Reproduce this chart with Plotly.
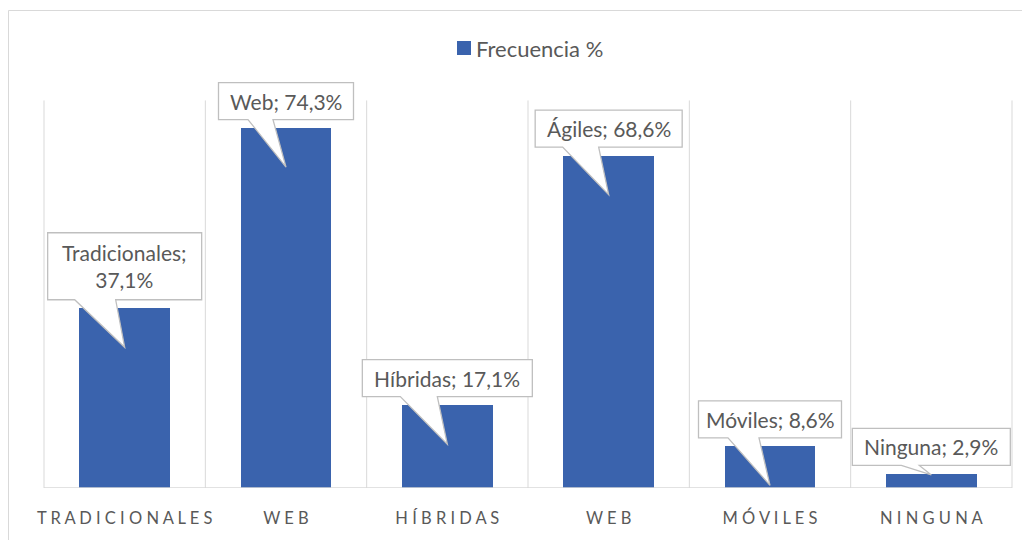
import plotly.graph_objects as go

# ---- data ----
series_name = "Frecuencia %"
label_names = ["Tradicionales", "Web", "Híbridas", "Ágiles", "Móviles", "Ninguna"]
values = [37.1, 74.3, 17.1, 68.6, 8.6, 2.9]
tick_labels = ["TRADICIONALES", "WEB", "HÍBRIDAS", "WEB", "MÓVILES", "NINGUNA"]

# ---- style / layout ----
FIG_W, FIG_H = 1030, 540
L, R, T, B = 26, 16, 44, 60
CAT_PX = 968 / 6
PAD = 10 / CAT_PX
Y_MAX_AXIS = 80
BAR_COLOR = "#3A63AD"
TEXT_COLOR = "#595959"
GRID_COLOR = "#D9D9D9"
CALLOUT_LINE = "#BFBFBF"
FONT = "Lato"

W_plot = FIG_W - L - R
H_plot = FIG_H - T - B


def px_x(p):
    return (p - L) / W_plot


def px_y(p):
    return (FIG_H - B - p) / H_plot


# callout geometry in pixels (box width, box height, tip depth, pointer base left/right)
box_w = [154, 135, 170, 147, 143, 158]
box_h = [67, 37, 37, 37, 37, 37]
tip_dy = [-39, -39, -39, -39, -39, -1]
base_a = [-50, -38, -47, -46, -42, -30]
base_b = [-9, -13, -10, -10, -11, -12]
GAP = 8.5

n = len(values)
xs = list(range(n))

fig = go.Figure()
fig.add_trace(go.Bar(
    x=xs, y=values, name=series_name, width=0.56,
    marker=dict(color=BAR_COLOR, line=dict(width=0)),
    hoverinfo="skip", showlegend=False,
))


def fmt(v):
    return f"{v:.1f}".replace(".", ",") + "%"


shapes = []
# outer chart border
shapes.append(dict(type="rect", xref="paper", yref="paper",
                   x0=px_x(0.5), x1=px_x(FIG_W + 10),
                   y0=px_y(FIG_H + 10), y1=px_y(2.5),
                   line=dict(color=GRID_COLOR, width=1), fillcolor="rgba(0,0,0,0)",
                   layer="below"))
# vertical category gridlines
for k in range(n + 1):
    shapes.append(dict(type="line", xref="x", yref="y", x0=k - 0.5, x1=k - 0.5,
                       y0=0, y1=Y_MAX_AXIS, line=dict(color=GRID_COLOR, width=1),
                       layer="below"))
# baseline
shapes.append(dict(type="line", xref="x", yref="y", x0=-0.5, x1=n - 0.5, y0=0, y1=0,
                   line=dict(color=GRID_COLOR, width=1.3), layer="above"))

annotations = []
for i, (nm, v) in enumerate(zip(label_names, values)):
    w, h = box_w[i], box_h[i]
    hw = w / 2
    path = (f"M{-hw},{GAP} L{base_a[i]},{GAP} L0,{tip_dy[i]} L{base_b[i]},{GAP} "
            f"L{hw},{GAP} L{hw},{GAP + h} L{-hw},{GAP + h} Z")
    shapes.append(dict(type="path", xref="x", yref="y", xsizemode="pixel",
                       ysizemode="pixel", xanchor=i, yanchor=v, path=path,
                       fillcolor="white", line=dict(color=CALLOUT_LINE, width=1.3),
                       layer="above"))
    txt = f"{nm};<br>{fmt(v)}" if h > 50 else f"{nm}; {fmt(v)}"
    annotations.append(dict(x=i, y=v, xref="x", yref="y", text=txt, showarrow=False,
                            xanchor="center", yanchor="middle", yshift=GAP + h / 2,
                            font=dict(family=FONT, size=21, color=TEXT_COLOR)))

# manual legend (square swatch + text)
shapes.append(dict(type="rect", xref="paper", yref="paper",
                   x0=px_x(449), x1=px_x(463), y0=px_y(47), y1=px_y(33),
                   fillcolor=BAR_COLOR, line=dict(width=0), layer="above"))
annotations.append(dict(x=px_x(466), y=px_y(40), xref="paper", yref="paper",
                        text=series_name, showarrow=False, xanchor="left",
                        yanchor="middle",
                        font=dict(family=FONT, size=22, color=TEXT_COLOR)))

spaced = [" ".join(list(t)) for t in tick_labels]

fig.update_layout(
    width=FIG_W, height=FIG_H,
    margin=dict(l=L, r=R, t=T, b=B, autoexpand=False),
    paper_bgcolor="white", plot_bgcolor="white",
    showlegend=False,
    xaxis=dict(range=[-0.5 - PAD, n - 0.5 + PAD], tickvals=xs, ticktext=spaced,
               showgrid=False, zeroline=False, showline=False,
               ticks="outside", ticklen=15, tickcolor="rgba(0,0,0,0)",
               tickfont=dict(family=FONT, size=16.5, color=TEXT_COLOR), fixedrange=True),
    yaxis=dict(range=[0, 90], showgrid=False, zeroline=False, showline=False,
               showticklabels=False, ticks="", fixedrange=True),
    shapes=shapes,
    annotations=annotations,
    bargap=0,
)

fig.write_html("out.html")
